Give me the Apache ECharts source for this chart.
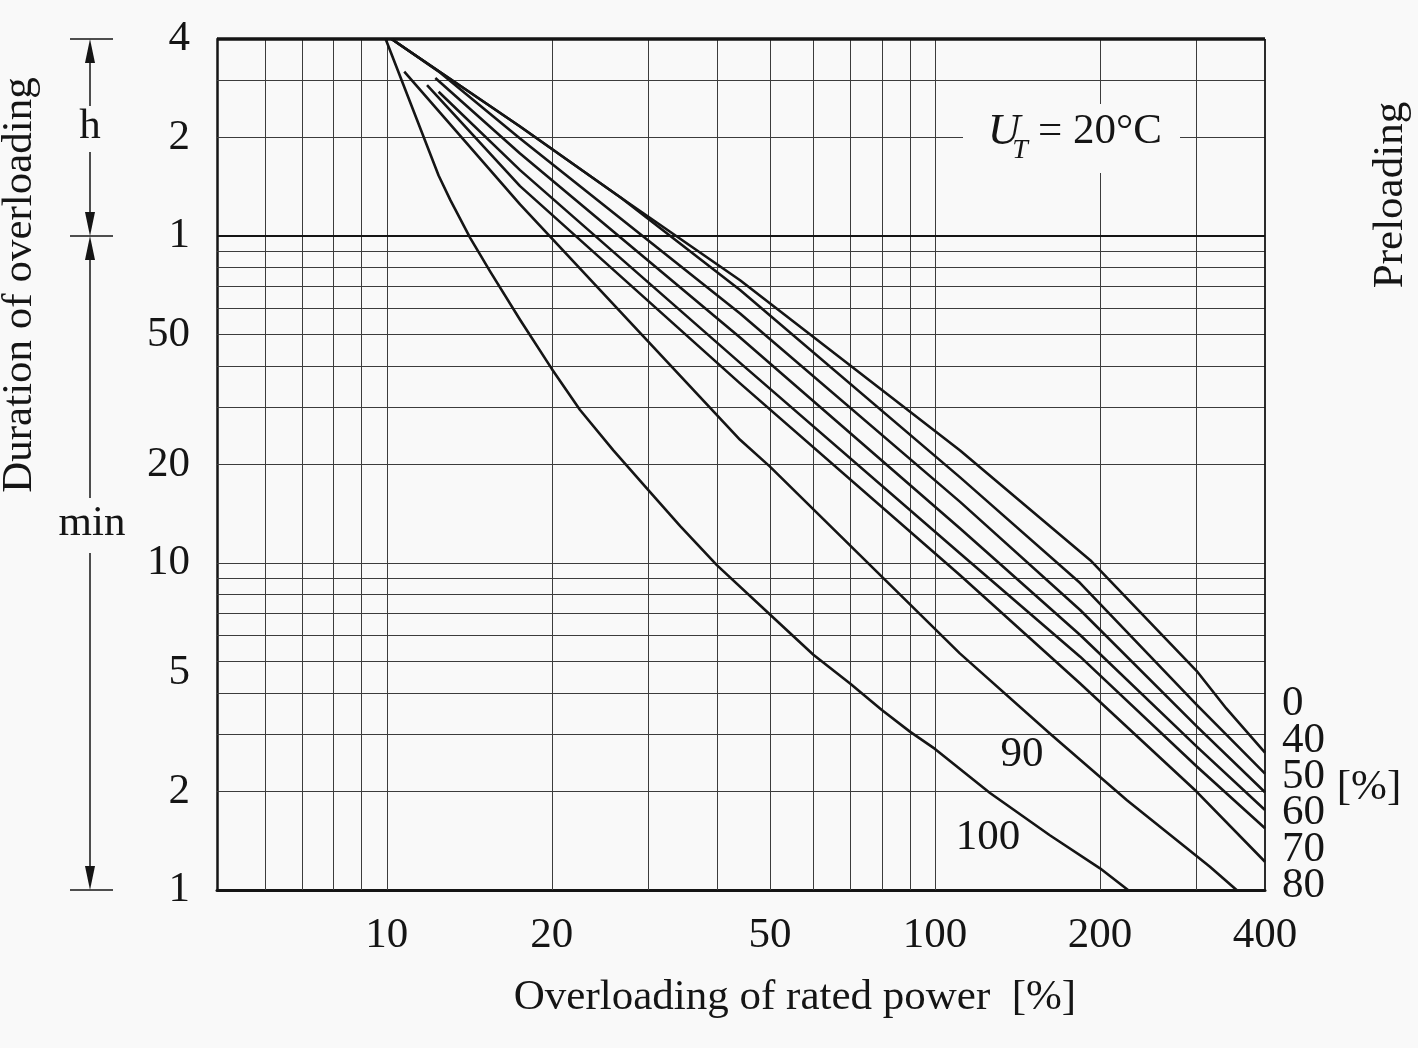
<!DOCTYPE html>
<html>
<head>
<meta charset="utf-8">
<script src="https://cdn.jsdelivr.net/npm/echarts@6/dist/echarts.min.js"></script>
<style>
html,body{margin:0;padding:0;background:#f9f9f9;}
#c{width:1418px;height:1048px;}
</style>
</head>
<body>
<div id="c"></div>
<script>
// ---------- data ----------
const xTickValues = [10, 20, 50, 100, 200, 400];
const yTickValues = [1, 2, 5, 10, 20, 50, 100, 200, 400];
const yTickText   = ['1', '2', '5', '10', '20', '50', '1', '2', '4'];
const xGridValues = [6, 7, 8, 9, 10, 20, 30, 40, 50, 60, 70, 80, 90, 100, 200, 300];
const yGridValues = [2, 3, 4, 5, 6, 7, 8, 9, 10, 20, 30, 40, 50, 60, 70, 80, 90, 200, 300];
const hourLineValue = 100;
const preloadLabels = ['0', '40', '50', '60', '70', '80'];

// overloading [%] , duration (minute-scale value)
const curve0   = [[10.2,400],[17.5,216],[26.7,131],[44.1,73.2],[111,22.1],[192,10.2],[300,4.68],[340,3.59],[400,2.63]];
const curve40  = [[10.2,400],[17.5,216],[26.7,131],[44.1,68.3],[111,18.3],[184,8.68],[300,3.69],[400,2.27]];
const curve50  = [[10.2,400],[12.5,316],[17.5,198.6],[44.1,57.9],[111,15.4],[184,7.18],[300,3.17],[400,1.99]];
const curve60  = [[12.26,304],[17.5,178.7],[44.1,48.9],[111,12.76],[184,6.02],[300,2.75],[400,1.756]];
const curve70  = [[12.43,276],[17.5,158.9],[44.1,40.9],[111,10.7],[184,5.17],[300,2.39],[400,1.544]];
const curve80  = [[11.84,289],[17.5,142],[44.1,35.4],[111,9.18],[184,4.28],[300,2.0],[400,1.22]];
const curve90  = [[10.76,318],[17.5,124.8],[44.1,23.8],[50,19.7],[111,5.29],[162,3.01],[184,2.5],[224,1.88],[317,1.18],[355,1]];
const curve100 = [[9.95,400],[12.43,153],[13.06,128.6],[14.2,98.5],[15.44,77.8],[17.5,55.4],[20,39.2],[22.5,29.4],[25.9,22.1],[30,16.7],[34.3,12.97],[40,9.85],[50,6.96],[60,5.24],[70,4.28],[80,3.55],[90,3.05],[100,2.70],[126,1.98],[162,1.47],[200,1.165],[225,1]];

// ---------- chart ----------
const FONT = '"Liberation Serif","Times New Roman",serif';
const INK = '#151515';
const FS = 43;
const chart = echarts.init(document.getElementById('c'), null, {renderer: 'canvas'});

function curve(name, data) {
  return {
    type: 'line', name: name, data: data, symbol: 'none', showSymbol: false,
    smooth: false, silent: true, z: 5,
    lineStyle: {color: INK, width: 2.6, join: 'round'}
  };
}

function yLabel(v) {
  for (let i = 0; i < yTickValues.length; i++) {
    if (Math.abs(Math.log10(v) - Math.log10(yTickValues[i])) < 1e-6) {
      return yTickValues[i] === 5 ? '{lo|' + yTickText[i] + '}' : yTickText[i];
    }
  }
  return '';
}

const gridLines = [];
xGridValues.forEach(v => gridLines.push({xAxis: v}));
yGridValues.forEach(v => gridLines.push({yAxis: v}));
gridLines.push({yAxis: hourLineValue, lineStyle: {width: 2, color: INK}});
gridLines.push({yAxis: 400, lineStyle: {width: 3.5, color: INK}});
gridLines.push({xAxis: 400, lineStyle: {width: 1.8, color: INK}});

const option = {
  backgroundColor: '#f9f9f9',
  animation: false,
  grid: {left: 217, right: 153, top: 39, bottom: 158, show: false},
  xAxis: {
    type: 'log', logBase: 10, min: 4.9, max: 400,
    axisLine: {show: true, onZero: false, lineStyle: {color: INK, width: 3}},
    axisTick: {show: false},
    splitLine: {show: false},
    axisLabel: {
      customValues: xTickValues, margin: 24,
      fontFamily: FONT, fontSize: FS, color: INK,
      formatter: v => String(Math.round(v))
    }
  },
  yAxis: {
    type: 'log', logBase: 10, min: 1, max: 400,
    axisLine: {show: true, onZero: false, lineStyle: {color: INK, width: 2.5}},
    axisTick: {show: false},
    splitLine: {show: false},
    axisLabel: {
      customValues: yTickValues, margin: 27,
      fontFamily: FONT, fontSize: FS, color: INK,
      formatter: v => yLabel(v),
      rich: {lo: {fontFamily: FONT, fontSize: FS, color: INK, padding: [22, 0, 0, 0]}}
    }
  },
  series: [
    {
      type: 'line', data: [[10, 10]], symbol: 'none', silent: true, z: 1,
      lineStyle: {opacity: 0},
      markLine: {
        symbol: ['none', 'none'], silent: true, animation: false,
        label: {show: false},
        lineStyle: {color: '#3c3c3c', width: 1, type: 'solid'},
        data: gridLines
      }
    },
    curve('0', curve0), curve('40', curve40), curve('50', curve50), curve('60', curve60),
    curve('70', curve70), curve('80', curve80), curve('90', curve90), curve('100', curve100)
  ]
};
chart.setOption(option);

// ---------- annotations ----------
const yTop = chart.convertToPixel({yAxisIndex: 0}, 400);
const yHour = chart.convertToPixel({yAxisIndex: 0}, hourLineValue);
const yBot = chart.convertToPixel({yAxisIndex: 0}, 1);
const ax = 90;
function arrowHead(xc, yTip, dir) {
  return {type: 'polygon', z: 50, shape: {points: [[xc, yTip], [xc - 5, yTip + dir * 24], [xc + 5, yTip + dir * 24]]}, style: {fill: INK}};
}
function txt(text, x, y, extra) {
  return Object.assign({type: 'text', z: 60, x: x, y: y,
    style: Object.assign({text: text, fill: INK, font: FS + 'px ' + FONT, align: 'center', verticalAlign: 'middle'}, extra || {})});
}
const labelYs = [704, 741, 777, 813, 850, 886];
const graphics = [
  {type: 'line', z: 50, shape: {x1: 70, y1: yTop, x2: 113, y2: yTop}, style: {stroke: INK, lineWidth: 1.5}},
  {type: 'line', z: 50, shape: {x1: 70, y1: yHour, x2: 113, y2: yHour}, style: {stroke: INK, lineWidth: 1.5}},
  {type: 'line', z: 50, shape: {x1: 70, y1: yBot, x2: 113, y2: yBot}, style: {stroke: INK, lineWidth: 1.5}},
  {type: 'line', z: 50, shape: {x1: ax, y1: yTop + 10, x2: ax, y2: 106}, style: {stroke: INK, lineWidth: 1.5}},
  {type: 'line', z: 50, shape: {x1: ax, y1: 152, x2: ax, y2: yHour - 10}, style: {stroke: INK, lineWidth: 1.5}},
  {type: 'line', z: 50, shape: {x1: ax, y1: yHour + 10, x2: ax, y2: 498}, style: {stroke: INK, lineWidth: 1.5}},
  {type: 'line', z: 50, shape: {x1: ax, y1: 553, x2: ax, y2: yBot - 10}, style: {stroke: INK, lineWidth: 1.5}},
  arrowHead(ax, yTop, 1), arrowHead(ax, yHour, -1), arrowHead(ax, yHour, 1), arrowHead(ax, yBot, -1),
  txt('h', ax, 127),
  txt('min', 92, 524),
  txt('Duration of overloading', 20, 285, {}),
  txt('Preloading', 1391, 195, {}),
  txt('Overloading of rated power  [%]', 795, 998),
  txt('90', 1022, 755),
  txt('100', 988, 838),
  txt('[%]', 1369, 788),
  {type: 'rect', z: 40, shape: {x: 963, y: 104, width: 217, height: 69}, style: {fill: '#f9f9f9'}},
  txt('U', 1004, 132, {font: 'italic 45px ' + FONT}),
  txt('T', 1020, 151, {font: 'italic 28px ' + FONT}),
  txt('= 20°C', 1100, 132)
];
// rotate the two vertical titles
graphics[13].rotation = Math.PI / 2;
graphics[14].rotation = Math.PI / 2;
preloadLabels.forEach((t, i) => graphics.push(txt(t, 1282, labelYs[i], {align: 'left'})));
chart.setOption({graphic: graphics});
</script>
</body>
</html>
